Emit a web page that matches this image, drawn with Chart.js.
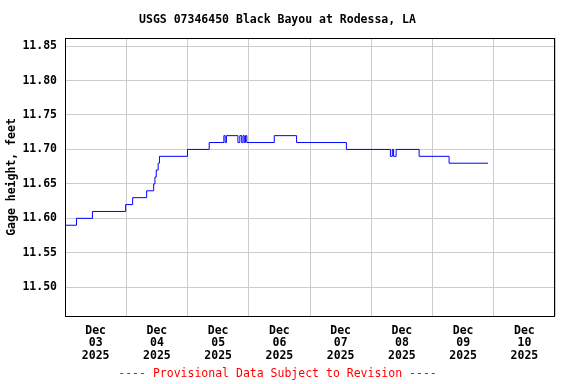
<!DOCTYPE html>
<html>
<head>
<meta charset="utf-8">
<script src="https://cdn.jsdelivr.net/npm/chart.js@4"></script>
<style>
  body { margin: 0; background: #fff; }
  canvas { display: block; }
</style>
</head>
<body>
<canvas id="gage" width="576" height="384"></canvas>
<script>
// readings are only stored when the stage changes (step plot)
const startTime = "2025-12-03T00:00";
const stepTimes = [
  "2025-12-03T00:00", "2025-12-03T04:30", "2025-12-03T10:45", "2025-12-03T23:45",
  "2025-12-04T02:30", "2025-12-04T08:00", "2025-12-04T10:45", "2025-12-04T11:15",
  "2025-12-04T11:45", "2025-12-04T12:30", "2025-12-04T13:00",
  "2025-12-05T00:00", "2025-12-05T08:30", "2025-12-05T14:15", "2025-12-05T14:45",
  "2025-12-05T15:15", "2025-12-05T19:45", "2025-12-05T20:30", "2025-12-05T21:15",
  "2025-12-05T21:45", "2025-12-05T22:15", "2025-12-05T22:45", "2025-12-05T23:15",
  "2025-12-06T10:00", "2025-12-06T18:45",
  "2025-12-07T14:15",
  "2025-12-08T07:30", "2025-12-08T08:15", "2025-12-08T08:45", "2025-12-08T09:45",
  "2025-12-08T18:45",
  "2025-12-09T06:30", "2025-12-09T21:45"
];
const gageHeight = [
  11.59, 11.60, 11.61, 11.62,
  11.63, 11.64, 11.65, 11.66,
  11.67, 11.68, 11.69,
  11.70, 11.71, 11.72, 11.71,
  11.72, 11.71, 11.72, 11.71,
  11.72, 11.71, 11.72, 11.71,
  11.72, 11.71,
  11.70,
  11.69, 11.70, 11.69, 11.70,
  11.69,
  11.68, 11.68
];
const dayLabels = [
  ["Dec", "03", "2025"], ["Dec", "04", "2025"], ["Dec", "05", "2025"], ["Dec", "06", "2025"],
  ["Dec", "07", "2025"], ["Dec", "08", "2025"], ["Dec", "09", "2025"], ["Dec", "10", "2025"]
];
const yTicks = [11.50, 11.55, 11.60, 11.65, 11.70, 11.75, 11.80, 11.85];

const hoursFrom = (t) => (Date.parse(t) - Date.parse(startTime)) / 3600000;
const points = stepTimes.map((t, i) => ({ x: hoursFrom(t), y: gageHeight[i] }));

Chart.defaults.font.family = "'DejaVu Sans Mono', monospace";
Chart.defaults.font.size = 11.5;
Chart.defaults.font.weight = "bold";
Chart.defaults.color = "#000";

// box around the plot area
const frame = {
  id: "frame",
  afterDraw(chart) {
    const { ctx, chartArea: a } = chart;
    ctx.save();
    ctx.strokeStyle = "#000";
    ctx.lineWidth = 1;
    ctx.strokeRect(Math.round(a.left) + 0.5, Math.round(a.top) + 0.5,
      Math.round(a.right - a.left) - 1, Math.round(a.bottom - a.top));
    ctx.restore();
  }
};

new Chart(document.getElementById("gage"), {
  type: "line",
  data: {
    datasets: [{
      data: points,
      borderColor: "#0000ff",
      borderWidth: 1,
      pointRadius: 0,
      stepped: "before",
      fill: false
    }]
  },
  options: {
    responsive: false,
    animation: false,
    layout: { padding: { left: 0, right: 21, top: 0, bottom: 0 } },
    plugins: {
      legend: { display: false },
      tooltip: { enabled: false },
      title: {
        display: true,
        text: "USGS 07346450 Black Bayou at Rodessa, LA",
        color: "#000",
        padding: { top: 13, bottom: 11 }
      },
      subtitle: {
        display: true,
        position: "bottom",
        text: "---- Provisional Data Subject to Revision ----",
        color: "#ff0000",
        padding: { top: 0, bottom: 3 }
      }
    },
    scales: {
      x: {
        type: "linear",
        min: 0,
        max: 192,
        afterBuildTicks: (scale) => {
          const ticks = [];
          for (let h = 0; h <= 192; h += 12) ticks.push({ value: h });
          scale.ticks = ticks;
        },
        afterFit: (scale) => { scale.height = 51; },
        ticks: {
          autoSkip: false,
          maxRotation: 0,
          padding: 8,
          font: { lineHeight: 1.1 },
          callback: (v) => (v % 24 === 12 ? dayLabels[(v - 12) / 24] : "")
        },
        grid: {
          drawTicks: false,
          color: (c) => (c.tick && c.tick.value % 24 === 0 ? "#cccccc" : "transparent")
        },
        border: { display: false }
      },
      y: {
        min: 11.458,
        max: 11.862,
        afterBuildTicks: (scale) => { scale.ticks = yTicks.map((v) => ({ value: v })); },
        afterFit: (scale) => { scale.width = 65; },
        ticks: {
          padding: 8,
          callback: (v) => v.toFixed(2)
        },
        grid: { drawTicks: false, color: "#cccccc" },
        border: { display: false },
        title: {
          display: true,
          text: "Gage height, feet",
          padding: { top: 5, bottom: 0 }
        }
      }
    }
  },
  plugins: [frame]
});
</script>
</body>
</html>
